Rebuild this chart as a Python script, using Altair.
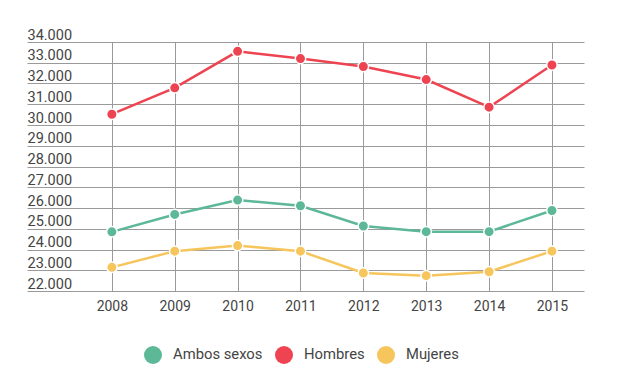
import altair as alt
import pandas as pd

years = [2008, 2009, 2010, 2011, 2012, 2013, 2014, 2015]
ambos = [24850, 25690, 26380, 26110, 25130, 24860, 24860, 25880]
hombres = [30520, 31790, 33550, 33200, 32820, 32190, 30860, 32890]
mujeres = [23140, 23920, 24190, 23920, 22870, 22740, 22930, 23920]

series = ["Ambos sexos", "Hombres", "Mujeres"]
colors = ["#5cb897", "#ee4451", "#f6c55c"]
y_ticks = list(range(22000, 34001, 1000))

rows = []
for name, vals in zip(series, [ambos, hombres, mujeres]):
    for yr, v in zip(years, vals):
        rows.append({"year": yr, "value": v, "serie": name})
df = pd.DataFrame(rows)

FONT = "Roboto"

x = alt.X(
    "year:Q",
    scale=alt.Scale(domain=[2006.65, 2015.51], nice=False, zero=False),
    axis=alt.Axis(
        values=years, format="d", title=None, domain=False, ticks=False,
        grid=True, gridColor="#9a9a9a", gridWidth=1, labelPadding=8,
        labelFontSize=14, labelColor="#444444", labelFont=FONT,
    ),
)
y = alt.Y(
    "value:Q",
    scale=alt.Scale(domain=[22000, 34000], nice=False, zero=False),
    axis=alt.Axis(
        values=y_ticks, labelExpr="replace(format(datum.value/1000, '.3f'), ',', '.')",
        title=None, domain=False, ticks=False, grid=True,
        gridColor="#9a9a9a", gridWidth=1, labelAlign="left", labelBaseline="bottom",
        labelPadding=0, labelFontSize=14.5, labelColor="#444444", labelFont=FONT,
    ),
)
color = alt.Color(
    "serie:N",
    scale=alt.Scale(domain=series, range=colors),
    legend=alt.Legend(
        title=None, orient="none", legendX=117, legendY=304, direction="horizontal",
        symbolType="circle", symbolSize=324, symbolStrokeWidth=0, symbolOpacity=1,
        labelFontSize=14.8, labelColor="#444444", labelFont=FONT, labelOffset=11,
        columnPadding=12,
    ),
)

lines = alt.Chart(df).mark_line(strokeWidth=2.5).encode(x=x, y=y, color=color)
points = alt.Chart(df).mark_point(
    filled=True, size=110, opacity=1, stroke="white", strokeWidth=1.5
).encode(x=x, y=y, color=color)

chart = (
    alt.layer(lines, points)
    .properties(
        width=557, height=249,
        autosize=alt.AutoSizeParams(type="none"),
        padding={"left": 19, "top": 34, "right": 20, "bottom": 76},
    )
    .configure(font=FONT)
    .configure_view(strokeWidth=0, stroke="transparent")
)

chart.save("out.html", embed_options={"renderer": "svg", "actions": False})
